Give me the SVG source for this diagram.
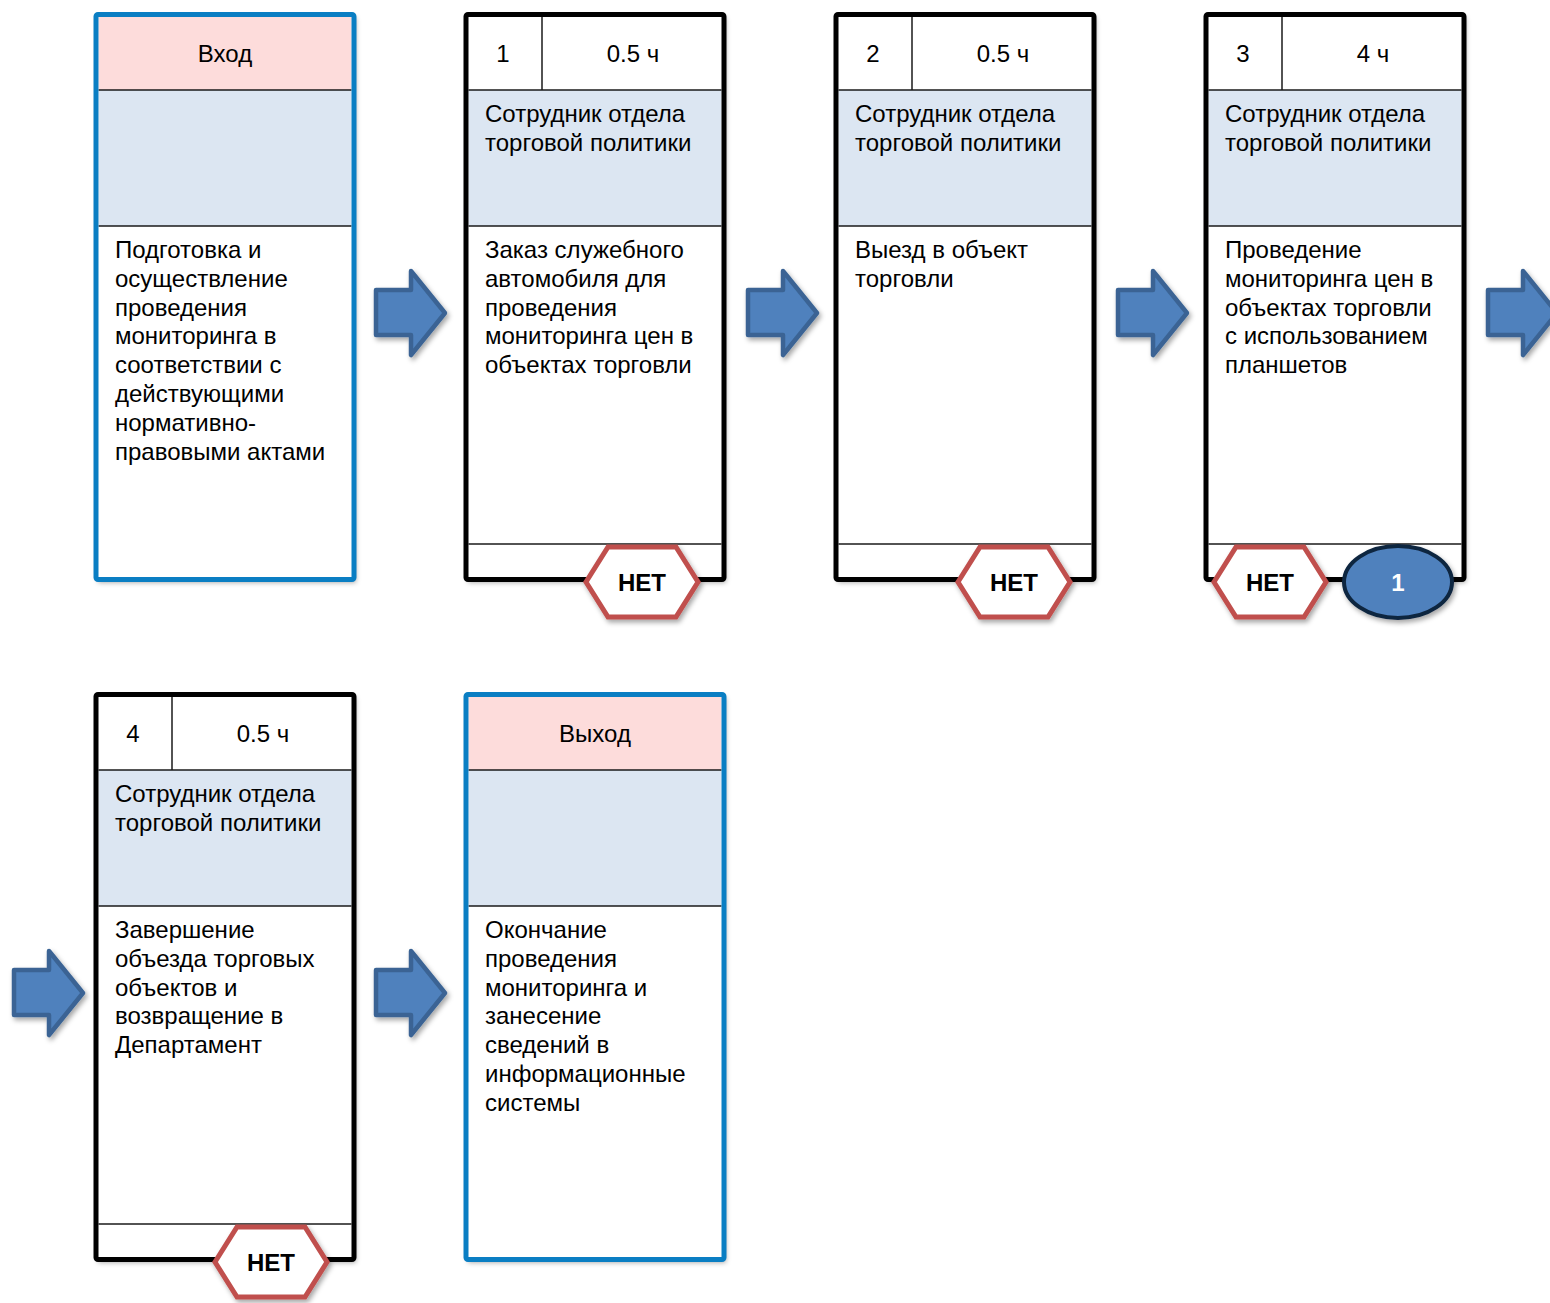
<svg xmlns="http://www.w3.org/2000/svg" width="1550" height="1303" viewBox="0 0 1550 1303">
<defs>
<filter id="sh" x="-10%" y="-10%" width="130%" height="130%">
<feDropShadow dx="2" dy="3" stdDeviation="2.5" flood-color="#000" flood-opacity="0.35"/>
</filter>
<polygon id="arrowShape" points="2,22 37,22 37,3 71,45 37,87 37,67 2,67"/>
<polygon id="hexShape" points="-56,0 -34,-35 34,-35 56,0 34,35 -34,35"/>
</defs>
<style>
.t{font-family:"Liberation Sans",Arial,sans-serif;font-size:24px;fill:#000}
.c{text-anchor:middle}
.b{font-weight:bold}
.bg{fill:#fff}
.pink{fill:#FDDCDB}
.blue{fill:#DCE6F2}
.ln{stroke:#1a1a1a;stroke-width:1.5;fill:none}
.bk{fill:none;stroke:#000;stroke-width:5;stroke-linejoin:round}
.bl{fill:none;stroke:#0A7EC3;stroke-width:5;stroke-linejoin:round}
.arr{fill:#4F81BD;stroke:#3A6494;stroke-width:4.5;stroke-linejoin:round}
.hex{fill:#fff;stroke:#C0504D;stroke-width:5;stroke-linejoin:miter}
.ell{fill:#4F81BD;stroke:#10253F;stroke-width:4}
.w{fill:#fff}
</style>

<g id="connectors">
<use href="#arrowShape" class="arr" transform="translate(374,268)" filter="url(#sh)"/>
<use href="#arrowShape" class="arr" transform="translate(746,268)" filter="url(#sh)"/>
<use href="#arrowShape" class="arr" transform="translate(1116,268)" filter="url(#sh)"/>
<use href="#arrowShape" class="arr" transform="translate(1486,268)" filter="url(#sh)"/>
<use href="#arrowShape" class="arr" transform="translate(12,948)" filter="url(#sh)"/>
<use href="#arrowShape" class="arr" transform="translate(374,948)" filter="url(#sh)"/>
</g>

<g id="node-input" transform="translate(96,14.5)">
<rect x="0" y="0" width="258" height="565" class="bg" filter="url(#sh)"/>
<rect x="2.5" y="2.5" width="253" height="73" class="pink"/>
<rect x="2.5" y="75.5" width="253" height="136" class="blue"/>
<line x1="2.5" y1="75.5" x2="255.5" y2="75.5" class="ln"/>
<line x1="2.5" y1="211.5" x2="255.5" y2="211.5" class="ln"/>
<rect x="0" y="0" width="258" height="565" rx="2" class="bl"/>
<text class="t c" x="129" y="47">Вход</text>
<text class="t" x="19" y="243.5">Подготовка и</text>
<text class="t" x="19" y="272.3">осуществление</text>
<text class="t" x="19" y="301.1">проведения</text>
<text class="t" x="19" y="329.9">мониторинга в</text>
<text class="t" x="19" y="358.7">соответствии с</text>
<text class="t" x="19" y="387.5">действующими</text>
<text class="t" x="19" y="416.3">нормативно-</text>
<text class="t" x="19" y="445.1">правовыми актами</text>
</g>

<g id="node-1" transform="translate(466,14.5)">
<rect x="0" y="0" width="258" height="565" class="bg" filter="url(#sh)"/>
<rect x="2.5" y="75.5" width="253" height="136" class="blue"/>
<line x1="76" y1="2.5" x2="76" y2="75.5" class="ln"/>
<line x1="2.5" y1="75.5" x2="255.5" y2="75.5" class="ln"/>
<line x1="2.5" y1="211.5" x2="255.5" y2="211.5" class="ln"/>
<line x1="2.5" y1="529.5" x2="255.5" y2="529.5" class="ln"/>
<rect x="0" y="0" width="258" height="565" rx="2" class="bk"/>
<text class="t c" x="37" y="47">1</text>
<text class="t c" x="167" y="47">0.5 ч</text>
<text class="t" x="19" y="107.5">Сотрудник отдела</text>
<text class="t" x="19" y="136.3">торговой политики</text>
<text class="t" x="19" y="243.5">Заказ служебного</text>
<text class="t" x="19" y="272.3">автомобиля для</text>
<text class="t" x="19" y="301.1">проведения</text>
<text class="t" x="19" y="329.9">мониторинга цен в</text>
<text class="t" x="19" y="358.7">объектах торговли</text>
</g>
<g id="node-1-no" transform="translate(642,582)">
<use href="#hexShape" class="hex" filter="url(#sh)"/>
<text class="t c b" x="0" y="8.5">НЕТ</text>
</g>

<g id="node-2" transform="translate(836,14.5)">
<rect x="0" y="0" width="258" height="565" class="bg" filter="url(#sh)"/>
<rect x="2.5" y="75.5" width="253" height="136" class="blue"/>
<line x1="76" y1="2.5" x2="76" y2="75.5" class="ln"/>
<line x1="2.5" y1="75.5" x2="255.5" y2="75.5" class="ln"/>
<line x1="2.5" y1="211.5" x2="255.5" y2="211.5" class="ln"/>
<line x1="2.5" y1="529.5" x2="255.5" y2="529.5" class="ln"/>
<rect x="0" y="0" width="258" height="565" rx="2" class="bk"/>
<text class="t c" x="37" y="47">2</text>
<text class="t c" x="167" y="47">0.5 ч</text>
<text class="t" x="19" y="107.5">Сотрудник отдела</text>
<text class="t" x="19" y="136.3">торговой политики</text>
<text class="t" x="19" y="243.5">Выезд в объект</text>
<text class="t" x="19" y="272.3">торговли</text>
</g>
<g id="node-2-no" transform="translate(1014,582)">
<use href="#hexShape" class="hex" filter="url(#sh)"/>
<text class="t c b" x="0" y="8.5">НЕТ</text>
</g>

<g id="node-3" transform="translate(1206,14.5)">
<rect x="0" y="0" width="258" height="565" class="bg" filter="url(#sh)"/>
<rect x="2.5" y="75.5" width="253" height="136" class="blue"/>
<line x1="76" y1="2.5" x2="76" y2="75.5" class="ln"/>
<line x1="2.5" y1="75.5" x2="255.5" y2="75.5" class="ln"/>
<line x1="2.5" y1="211.5" x2="255.5" y2="211.5" class="ln"/>
<line x1="2.5" y1="529.5" x2="255.5" y2="529.5" class="ln"/>
<rect x="0" y="0" width="258" height="565" rx="2" class="bk"/>
<text class="t c" x="37" y="47">3</text>
<text class="t c" x="167" y="47">4 ч</text>
<text class="t" x="19" y="107.5">Сотрудник отдела</text>
<text class="t" x="19" y="136.3">торговой политики</text>
<text class="t" x="19" y="243.5">Проведение</text>
<text class="t" x="19" y="272.3">мониторинга цен в</text>
<text class="t" x="19" y="301.1">объектах торговли</text>
<text class="t" x="19" y="329.9">с использованием</text>
<text class="t" x="19" y="358.7">планшетов</text>
</g>
<g id="node-3-no" transform="translate(1270,582)">
<use href="#hexShape" class="hex" filter="url(#sh)"/>
<text class="t c b" x="0" y="8.5">НЕТ</text>
</g>
<g id="node-3-ref" transform="translate(1398,582)">
<ellipse cx="0" cy="0" rx="54" ry="36" class="ell" filter="url(#sh)"/>
<text class="t c b w" x="0" y="8.5">1</text>
</g>

<g id="node-4" transform="translate(96,694.5)">
<rect x="0" y="0" width="258" height="565" class="bg" filter="url(#sh)"/>
<rect x="2.5" y="75.5" width="253" height="136" class="blue"/>
<line x1="76" y1="2.5" x2="76" y2="75.5" class="ln"/>
<line x1="2.5" y1="75.5" x2="255.5" y2="75.5" class="ln"/>
<line x1="2.5" y1="211.5" x2="255.5" y2="211.5" class="ln"/>
<line x1="2.5" y1="529.5" x2="255.5" y2="529.5" class="ln"/>
<rect x="0" y="0" width="258" height="565" rx="2" class="bk"/>
<text class="t c" x="37" y="47">4</text>
<text class="t c" x="167" y="47">0.5 ч</text>
<text class="t" x="19" y="107.5">Сотрудник отдела</text>
<text class="t" x="19" y="136.3">торговой политики</text>
<text class="t" x="19" y="243.5">Завершение</text>
<text class="t" x="19" y="272.3">объезда торговых</text>
<text class="t" x="19" y="301.1">объектов и</text>
<text class="t" x="19" y="329.9">возвращение в</text>
<text class="t" x="19" y="358.7">Департамент</text>
</g>
<g id="node-4-no" transform="translate(271,1262)">
<use href="#hexShape" class="hex" filter="url(#sh)"/>
<text class="t c b" x="0" y="8.5">НЕТ</text>
</g>

<g id="node-output" transform="translate(466,694.5)">
<rect x="0" y="0" width="258" height="565" class="bg" filter="url(#sh)"/>
<rect x="2.5" y="2.5" width="253" height="73" class="pink"/>
<rect x="2.5" y="75.5" width="253" height="136" class="blue"/>
<line x1="2.5" y1="75.5" x2="255.5" y2="75.5" class="ln"/>
<line x1="2.5" y1="211.5" x2="255.5" y2="211.5" class="ln"/>
<rect x="0" y="0" width="258" height="565" rx="2" class="bl"/>
<text class="t c" x="129" y="47">Выход</text>
<text class="t" x="19" y="243.5">Окончание</text>
<text class="t" x="19" y="272.3">проведения</text>
<text class="t" x="19" y="301.1">мониторинга и</text>
<text class="t" x="19" y="329.9">занесение</text>
<text class="t" x="19" y="358.7">сведений в</text>
<text class="t" x="19" y="387.5">информационные</text>
<text class="t" x="19" y="416.3">системы</text>
</g>
</svg>
